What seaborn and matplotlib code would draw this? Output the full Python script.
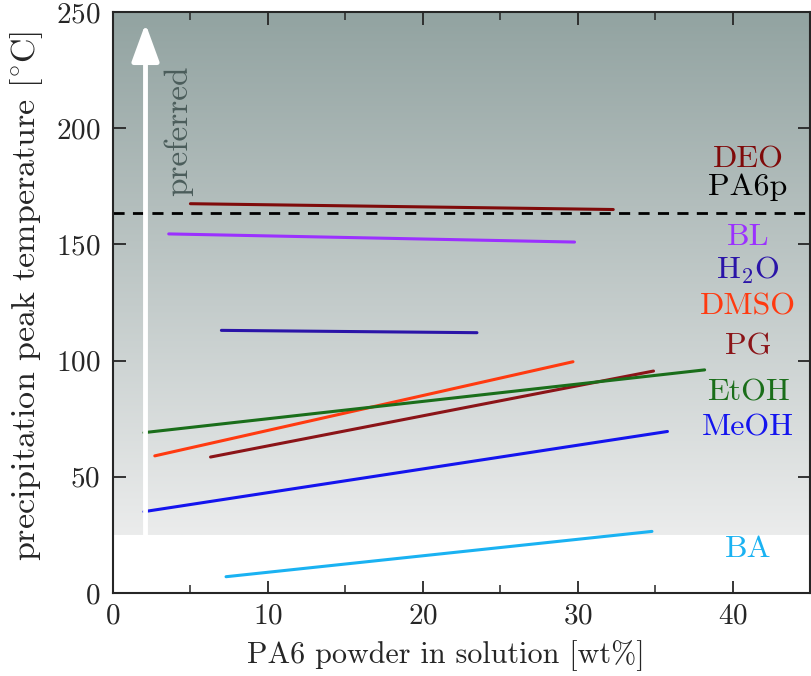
import numpy as np
import pandas as pd
import seaborn as sns
import matplotlib.pyplot as plt
from matplotlib.colors import LinearSegmentedColormap

sns.set_theme(style="ticks")
plt.rcParams['font.family'] = ['cmr10', 'DejaVu Serif']
plt.rcParams['mathtext.fontset'] = 'cm'
plt.rcParams['axes.formatter.use_mathtext'] = True

# solvent lines: (wt% start, wt% end), (T start, T end)
solvents = ["DEO", "BL", "H2O", "DMSO", "PG", "EtOH", "MeOH", "BA"]
x_start = [5.0, 3.6, 7.0, 2.7, 6.3, 2.0, 2.0, 7.3]
x_end = [32.3, 29.8, 23.5, 29.7, 34.9, 38.2, 35.8, 34.8]
t_start = [167.5, 154.5, 113.0, 59.0, 58.5, 69.0, 35.0, 7.0]
t_end = [165.0, 151.0, 112.0, 99.5, 95.5, 96.0, 69.5, 26.5]
colors = ["#7f0a0a", "#9b30ff", "#2a14a8", "#ff3a10", "#8b1418", "#1a6e1a", "#1414ee", "#1ab2f2"]

label_text = ["DEO", "BL", r"H$_2$O", "DMSO", "PG", "EtOH", "MeOH", "BA"]
label_y = [186.5, 153, 139, 123, 106, 86, 71, 19]

pa6p_temp = 163.5
pa6p_label_y = 174.5
room_temp = 25

df = pd.DataFrame({
    "solvent": solvents * 2,
    "wt": x_start + x_end,
    "T": t_start + t_end,
})
palette = dict(zip(solvents, colors))

fig = plt.figure(figsize=(8.11, 6.76), dpi=100)
ax = fig.add_axes([0.1393, 0.1228, 0.8594, 0.8595])

# gradient background above room temperature
cmap = LinearSegmentedColormap.from_list("bg", ["#ebecec", "#92a3a1"])
grad = np.linspace(0, 1, 256).reshape(-1, 1)
ax.imshow(grad, cmap=cmap, extent=[0, 45, room_temp, 250], origin="lower",
          aspect="auto", zorder=0)

sns.lineplot(data=df, x="wt", y="T", hue="solvent", palette=palette,
             units="solvent", estimator=None, legend=False, lw=2.2, ax=ax, zorder=3)

ax.axhline(pa6p_temp, color="black", ls=(0, (4, 3)), lw=2, zorder=4)

ax.annotate("", xy=(2.1, 245), xytext=(2.1, room_temp),
            arrowprops=dict(arrowstyle="-|>,head_length=1.15,head_width=0.42",
                            mutation_scale=20, color="white", lw=3.5,
                            shrinkA=0, shrinkB=0), zorder=5)
ax.text(4.2, 199, "preferred", rotation=90, ha="center", va="center",
        fontsize=24, color="#4b5d5b", zorder=5)

for lab, y, c in zip(label_text, label_y, colors):
    ax.text(41, y, lab, color=c, fontsize=23, ha="center", va="center", zorder=5)
ax.text(41, pa6p_label_y, "PA6p", color="black", fontsize=23, ha="center",
        va="center", zorder=5)

ax.set_xlim(0, 45)
ax.set_ylim(0, 250)
ax.set_xticks([0, 10, 20, 30, 40])
ax.set_xticks([5, 15, 25, 35], minor=True)
ax.set_yticks([0, 50, 100, 150, 200, 250])
ax.tick_params(direction="in", top=True, right=True, length=9, width=1.3,
               labelsize=21, pad=7)
ax.tick_params(axis="y", pad=9)
ax.tick_params(which="minor", direction="in", top=True, right=False, length=6, width=1.1)
for s in ax.spines.values():
    s.set_linewidth(1.5)
    s.set_zorder(6)

ax.set_xlabel("PA6 powder in solution [wt%]", fontsize=21.7, labelpad=8)
ax.xaxis.label.set_x(0.478)
ax.set_ylabel(r"precipitation peak temperature [$^{\circ}$C]", fontsize=24.5, labelpad=8)
ax.yaxis.label.set_y(0.512)

fig.savefig("out.png", dpi=100)
